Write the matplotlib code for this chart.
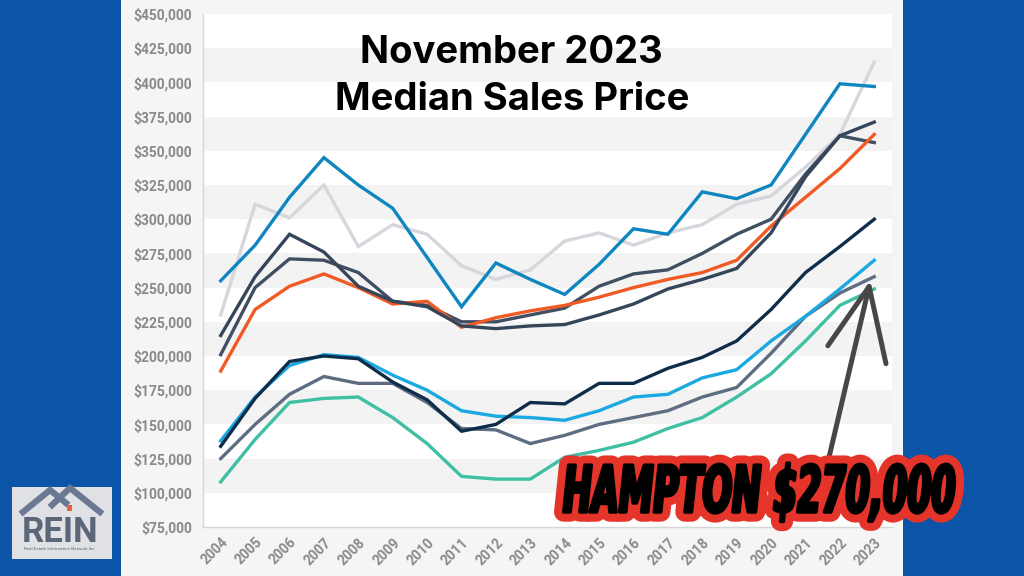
import matplotlib
matplotlib.use("Agg")
import matplotlib.pyplot as plt
from matplotlib.patches import Rectangle
from matplotlib.lines import Line2D
from matplotlib.ticker import FuncFormatter, MultipleLocator
from matplotlib.patheffects import AbstractPathEffect, Stroke, Normal
from matplotlib.transforms import Affine2D

# years on the x axis
years = list(range(2004, 2024))
year_labels = [str(y) for y in years]

# median sales price per market, in thousands of dollars
blue_line = [255, 281, 316, 345, 325, 308, 272, 236, 268, 256, 245, 267, 293, 289, 320, 315, 325, 362, 399, 397]
light_gray = [230, 311, 301, 325, 280, 296, 289, 266, 256, 263, 284, 290, 281, 290, 296, 311, 317, 338, 362, 415]
slate_a = [215, 258, 289, 276, 251, 240, 236, 222, 220, 222, 223, 230, 238, 249, 256, 264, 290, 331, 361, 371]
slate_b = [201, 250, 271, 270, 261, 240, 237, 225, 225, 230, 235, 251, 260, 263, 275, 289, 300, 333, 361, 356]
orange = [189, 234, 251, 260, 250, 238, 240, 221, 228, 233, 237, 243, 250, 256, 261, 270, 295, 316, 337, 362]
navy = [134, 169, 196, 200, 198, 181, 168, 145, 150, 166, 165, 180, 180, 191, 199, 211, 234, 261, 280, 300]
hampton = [138, 170, 193, 201, 199, 186, 175, 160, 156, 155, 153, 160, 170, 172, 184, 190, 211, 229, 249, 270]
slate_gray = [125, 150, 172, 185, 180, 180, 166, 147, 146, 136, 142, 150, 155, 160, 170, 177, 202, 229, 246, 258]
teal = [108, 139, 166, 169, 170, 155, 136, 112, 110, 110, 126, 131, 137, 147, 155, 170, 187, 211, 237, 249]

series = [
    (light_gray, "#d6d6dc"),
    (blue_line, "#0f86c0"),
    (slate_b, "#414f62"),
    (orange, "#f15a24"),
    (slate_a, "#36465a"),
    (teal, "#3fbfa3"),
    (slate_gray, "#5e6d82"),
    (hampton, "#1aa9e0"),
    (navy, "#0e2d4a"),
]

BLUE_BG = "#0b54a8"
PANEL = "#f5f5f5"
TICK_GRAY = "#8a8a8a"


class Squash(AbstractPathEffect):
    """scale the text path before drawing (makes a tall, narrow lettering)"""

    def __init__(self, sx, sy, effects):
        super().__init__()
        self.sx, self.sy, self.effects = sx, sy, effects

    def draw_path(self, renderer, gc, tpath, affine, rgbFace=None):
        affine = Affine2D().scale(self.sx, self.sy) + affine
        for pe in self.effects:
            pe.draw_path(renderer, gc, tpath, affine, rgbFace)


W, H = 1024, 576
fig = plt.figure(figsize=(W / 100, H / 100), dpi=100)
fig.patch.set_facecolor(BLUE_BG)


def px(x, y):
    return x / W, 1 - y / H


# light panel in the middle
fig.add_artist(Rectangle((121 / W, 0), (903 - 121) / W, 1, transform=fig.transFigure,
                         facecolor=PANEL, edgecolor="none", zorder=0))

ax = fig.add_axes([203 / W, 1 - 527 / H, (892 - 203) / W, (527 - 14) / H])
ax.set_facecolor("white")

# alternating bands
for lo in range(100000, 450000, 50000):
    ax.axhspan(lo, lo + 25000, color="#f3f3f3", lw=0, zorder=0)

x = list(range(len(years)))
for vals, col in series:
    ax.plot(x, [v * 1000 for v in vals], color=col, lw=2.4, solid_joinstyle="miter", zorder=2)

ax.set_xlim(-0.515, len(years) - 1 + 0.515)
ax.set_ylim(75000, 450000)
ax.yaxis.set_major_locator(MultipleLocator(25000))
ax.yaxis.set_major_formatter(FuncFormatter(lambda v, p: f"${v:,.0f}"))
ax.set_xticks(x)
ax.set_xticklabels(year_labels, rotation=45, ha="right", rotation_mode="anchor")
ax.tick_params(length=0, colors=TICK_GRAY)
ax.tick_params(axis="y", pad=8)
ax.tick_params(axis="x", pad=6)
for lab in ax.get_xticklabels() + ax.get_yticklabels():
    lab.set_fontfamily("Roboto")
    lab.set_fontweight("bold")
    lab.set_fontsize(10)
for s in ["top", "right"]:
    ax.spines[s].set_visible(False)
for s in ["left", "bottom"]:
    ax.spines[s].set_color("#d6d6d6")
    ax.spines[s].set_linewidth(1)

# title
fig.text(*px(511, 63), "November 2023", ha="center", va="baseline",
         fontsize=27.5, fontweight="bold", family="Inter", color="black", zorder=5)
fig.text(*px(512, 110), "Median Sales Price", ha="center", va="baseline",
         fontsize=27.5, fontweight="bold", family="Inter", color="black", zorder=5)

# hand drawn arrow pointing at hampton (x in year index units)
arrow_col = "#474747"
ax.plot([17.68, 18.85], [125500, 250800], color=arrow_col, lw=3.6,
        solid_capstyle="round", zorder=4, clip_on=False)
ax.plot([17.65, 18.85, 19.34], [207500, 250800, 194400], color=arrow_col, lw=3.6,
        solid_capstyle="round", solid_joinstyle="round", zorder=4, clip_on=False)

# HAMPTON label
fx = [Squash(1.0, 1.85, [Stroke(linewidth=14, foreground="#e5352b", joinstyle="round"),
                         Stroke(linewidth=2.5, foreground="black", joinstyle="round"),
                         Normal()])]
fig.text(*px(563, 512), "HAMPTON $270,000", ha="left", va="baseline", fontsize=25,
         fontweight="bold", fontstyle="italic", family="DejaVu Sans", color="black",
         path_effects=fx, zorder=6)

# REIN logo
logo_col = "#5b6679"
fig.add_artist(Rectangle(px(12, 559), 100 / W, 72 / H, transform=fig.transFigure,
                         facecolor="#dfe1e5", edgecolor="none", zorder=3))
for pts in ([(23, 512), (50, 490), (66, 503)], [(52, 505), (70, 488), (100, 512)]):
    xs = [px(a, b)[0] for a, b in pts]
    ys = [px(a, b)[1] for a, b in pts]
    fig.add_artist(Line2D(xs, ys, transform=fig.transFigure, color="#6b7891", lw=4.5,
                          solid_joinstyle="miter", zorder=4))
fig.add_artist(Rectangle(px(67, 511), 5 / W, 6 / H, transform=fig.transFigure,
                         facecolor="#e8643c", edgecolor="none", zorder=5))
fig.text(*px(60, 542), "REIN", ha="center", va="baseline", fontsize=25, fontweight="bold",
         family="Roboto", color=logo_col, zorder=5)
fig.text(*px(60, 550), "Real Estate Information Network Inc.", ha="center", va="baseline",
         fontsize=3.2, family="Roboto", color=logo_col, zorder=5)

fig.savefig("out.png", dpi=100, facecolor=fig.get_facecolor())
